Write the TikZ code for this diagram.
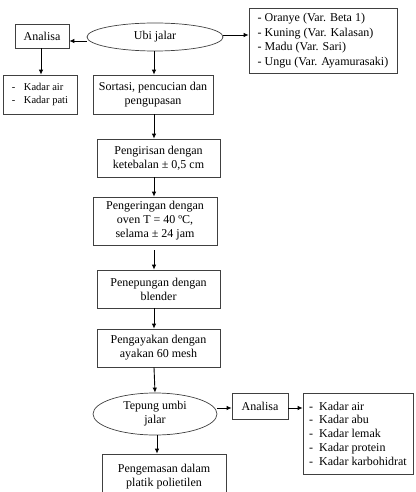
\documentclass[tikz,border=0pt]{standalone}
\usepackage{fontspec}
\setmainfont{Liberation Serif}
\usetikzlibrary{arrows.meta,shapes.geometric,calc}
\begin{document}
\begin{tikzpicture}[x=1pt,y=-1pt,
  box/.style={draw=black!75, line width=0.7pt, rectangle, inner sep=0pt, align=center, font=\fontsize{12}{14}\selectfont},
  listbox/.style={box, align=left},
  oval/.style={draw=black!75, line width=0.7pt, ellipse, inner sep=0pt, align=center, font=\fontsize{12}{14}\selectfont},
  arr/.style={line width=0.9pt, -{Latex[length=5pt,width=4.5pt]}},
]
\useasboundingbox (0,0) rectangle (415,492);
\coordinate (axis) at (154,0);

\node[box, minimum width=54pt, minimum height=24pt] (an1) at (42,36) {Analisa};
\node[oval, minimum width=136pt, minimum height=28pt] (ubi) at (155,37) {Ubi jalar};
\node[listbox, minimum width=148pt, minimum height=65pt, font=\fontsize{12}{14.6}\selectfont] (var) at (323,40.5)
  {- Oranye (Var. Beta 1)\\- Kuning (Var. Kalasan)\\- Madu (Var. Sari)\\- Ungu (Var. Ayamurasaki)};
\node[listbox, minimum width=74pt, minimum height=39pt, font=\fontsize{10.5}{13}\selectfont] (kad1) at (40,94.5)
  {\makebox[12pt][l]{-}Kadar air\\\makebox[12pt][l]{-}Kadar pati};
\node[box, minimum width=120pt, minimum height=39pt] (sort) at (153,94.5) {Sortasi, pencucian dan\\pengupasan};
\node[box, minimum width=123pt, minimum height=38pt] (iris) at (158.5,158) {Pengirisan dengan\\ketebalan ± 0,5 cm};
\node[box, minimum width=124pt, minimum height=48pt] (kering) at (155,221) {Pengeringan dengan\\oven T = 40 ºC,\\selama ± 24 jam};
\node[box, minimum width=123pt, minimum height=38pt] (tepg) at (158.5,289) {Penepungan dengan\\blender};
\node[box, minimum width=123pt, minimum height=38pt] (ayak) at (158.5,348) {Pengayakan dengan\\ayakan 60 mesh};
\node[oval, minimum width=124pt, minimum height=42pt] (tub) at (155,414) {Tepung umbi\\jalar};
\node[box, minimum width=56pt, minimum height=26pt] (an2) at (260,406) {Analisa};
\node[listbox, minimum width=110pt, minimum height=81pt, font=\fontsize{12}{13.7}\selectfont] (kad2) at (358,433.5)
  {- \ Kadar air\\- \ Kadar abu\\- \ Kadar lemak\\- \ Kadar protein\\- \ Kadar karbohidrat};
\node[box, minimum width=124pt, minimum height=46pt] (kemas) at (164,477)
  {\raisebox{4.5pt}{\begin{tabular}{@{}c@{}}Pengemasan dalam\\platik polietilen\end{tabular}}};

\draw[arr] ($(ubi.west)+(0,4)$) -- ($(an1.east)+(0,5)$);
\draw[arr] ($(ubi.east)+(0,-2)$) -- ($(ubi.east -| var.west)+(0,-2)$);
\draw[arr] (an1.south -| 41,0) -- (kad1.north -| 41,0);
\draw[arr] (ubi.south -| axis) -- (sort.north -| axis);
\draw[arr] (sort.south -| axis) -- (iris.north -| axis);
\draw[arr] (iris.south -| axis) -- (kering.north -| axis);
\draw[arr, shorten <=5pt] (kering.south -| axis) -- (tepg.north -| axis);
\draw[arr] (tepg.south -| axis) -- (ayak.north -| axis);
\draw[arr] (ayak.south -| axis) -- (tub.north);
\draw[arr] (tub.south -| 157,0) -- (kemas.north -| 157,0);
\draw[arr] ($(tub.east)+(0,-6)$) -- ($(tub.east -| an2.west)+(0,-6)$);
\draw[arr] (an2.east |- 0,408) -- (kad2.west |- 0,408);
\end{tikzpicture}
\end{document}
